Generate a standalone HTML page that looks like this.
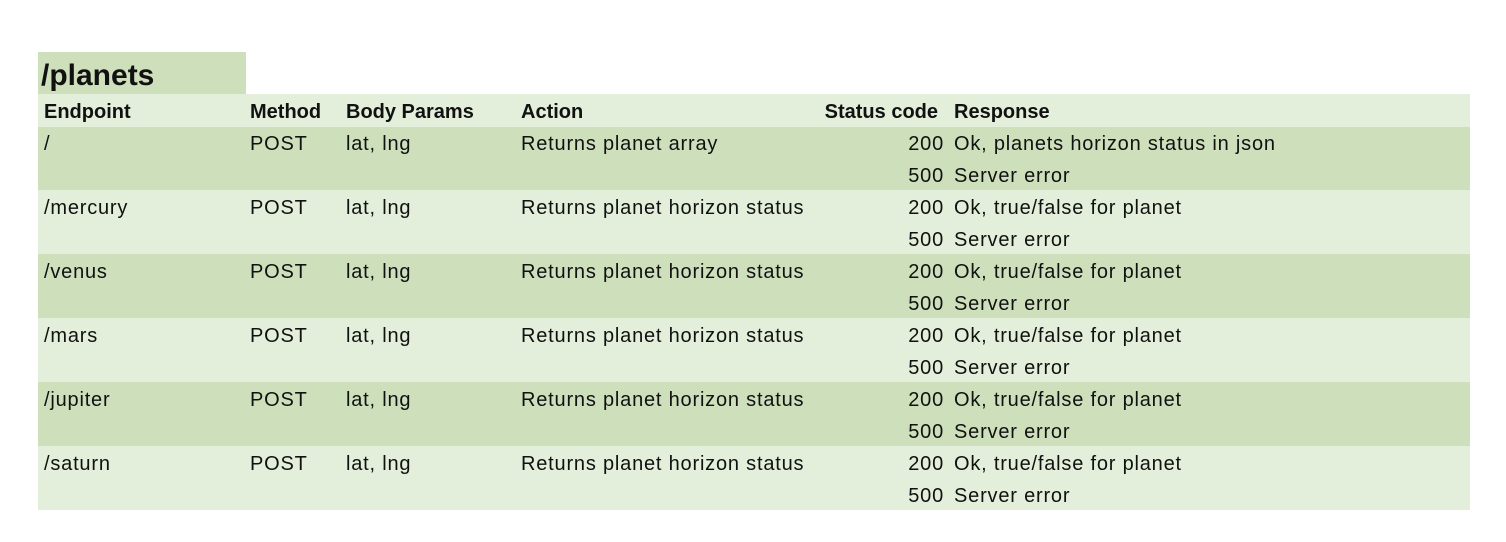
<!DOCTYPE html>
<html><head><style>
body{margin:0;width:1506px;height:542px;background:#fff;position:relative;font-family:"Liberation Sans",sans-serif;font-size:20px;letter-spacing:0.8px;color:#111;overflow:hidden}
.b{position:absolute}
.t{position:absolute;white-space:nowrap;line-height:32px;height:32px}
.r{text-align:right}
.h{letter-spacing:0}
</style></head><body>
<div class="b" style="left:38px;top:52px;width:208px;height:42px;background:#cde0bb"></div>
<div class="t" style="left:41px;top:57px;font-size:30px;font-weight:bold;line-height:38px;letter-spacing:0">/planets</div>
<div class="b" style="left:38px;top:94px;width:1432px;height:33px;background:#e3efda"></div>
<div class="b" style="left:38px;top:127px;width:1432px;height:63px;background:#cde0bb"></div>
<div class="b" style="left:38px;top:190px;width:1432px;height:64px;background:#e3efda"></div>
<div class="b" style="left:38px;top:254px;width:1432px;height:64px;background:#cde0bb"></div>
<div class="b" style="left:38px;top:318px;width:1432px;height:64px;background:#e3efda"></div>
<div class="b" style="left:38px;top:382px;width:1432px;height:64px;background:#cde0bb"></div>
<div class="b" style="left:38px;top:446px;width:1432px;height:64px;background:#e3efda"></div>
<div style="font-weight:bold;letter-spacing:0">
<div class="t" style="left:44px;top:96px">Endpoint</div>
<div class="t" style="left:250px;top:96px">Method</div>
<div class="t" style="left:346px;top:96px">Body Params</div>
<div class="t" style="left:521px;top:96px">Action</div>
<div class="t r" style="left:780px;width:158px;top:96px">Status code</div>
<div class="t" style="left:954px;top:96px">Response</div>
</div>
<div class="t" style="left:44px;top:128px">/</div>
<div class="t" style="left:250px;top:128px">POST</div>
<div class="t" style="left:346px;top:128px">lat, lng</div>
<div class="t" style="left:521px;top:128px">Returns planet array</div>
<div class="t r" style="left:880px;width:64px;top:128px">200</div>
<div class="t" style="left:954px;top:128px">Ok, planets horizon status in json</div>
<div class="t r" style="left:880px;width:64px;top:160px">500</div>
<div class="t" style="left:954px;top:160px">Server error</div>

<div class="t" style="left:44px;top:192px">/mercury</div>
<div class="t" style="left:250px;top:192px">POST</div>
<div class="t" style="left:346px;top:192px">lat, lng</div>
<div class="t" style="left:521px;top:192px">Returns planet horizon status</div>
<div class="t r" style="left:880px;width:64px;top:192px">200</div>
<div class="t" style="left:954px;top:192px">Ok, true/false for planet</div>
<div class="t r" style="left:880px;width:64px;top:224px">500</div>
<div class="t" style="left:954px;top:224px">Server error</div>

<div class="t" style="left:44px;top:256px">/venus</div>
<div class="t" style="left:250px;top:256px">POST</div>
<div class="t" style="left:346px;top:256px">lat, lng</div>
<div class="t" style="left:521px;top:256px">Returns planet horizon status</div>
<div class="t r" style="left:880px;width:64px;top:256px">200</div>
<div class="t" style="left:954px;top:256px">Ok, true/false for planet</div>
<div class="t r" style="left:880px;width:64px;top:288px">500</div>
<div class="t" style="left:954px;top:288px">Server error</div>

<div class="t" style="left:44px;top:320px">/mars</div>
<div class="t" style="left:250px;top:320px">POST</div>
<div class="t" style="left:346px;top:320px">lat, lng</div>
<div class="t" style="left:521px;top:320px">Returns planet horizon status</div>
<div class="t r" style="left:880px;width:64px;top:320px">200</div>
<div class="t" style="left:954px;top:320px">Ok, true/false for planet</div>
<div class="t r" style="left:880px;width:64px;top:352px">500</div>
<div class="t" style="left:954px;top:352px">Server error</div>

<div class="t" style="left:44px;top:384px">/jupiter</div>
<div class="t" style="left:250px;top:384px">POST</div>
<div class="t" style="left:346px;top:384px">lat, lng</div>
<div class="t" style="left:521px;top:384px">Returns planet horizon status</div>
<div class="t r" style="left:880px;width:64px;top:384px">200</div>
<div class="t" style="left:954px;top:384px">Ok, true/false for planet</div>
<div class="t r" style="left:880px;width:64px;top:416px">500</div>
<div class="t" style="left:954px;top:416px">Server error</div>

<div class="t" style="left:44px;top:448px">/saturn</div>
<div class="t" style="left:250px;top:448px">POST</div>
<div class="t" style="left:346px;top:448px">lat, lng</div>
<div class="t" style="left:521px;top:448px">Returns planet horizon status</div>
<div class="t r" style="left:880px;width:64px;top:448px">200</div>
<div class="t" style="left:954px;top:448px">Ok, true/false for planet</div>
<div class="t r" style="left:880px;width:64px;top:480px">500</div>
<div class="t" style="left:954px;top:480px">Server error</div>
</body></html>
